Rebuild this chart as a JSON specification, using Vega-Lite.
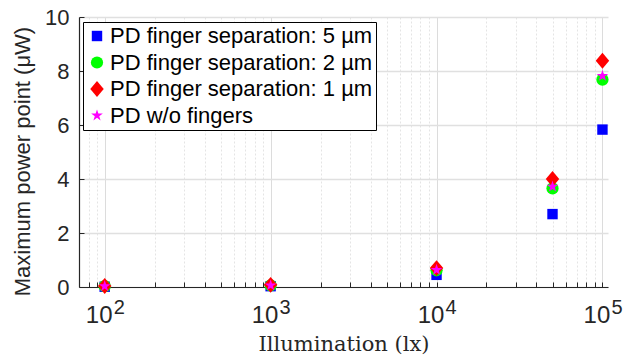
{
  "$schema": "https://vega.github.io/schema/vega-lite/v6.json",
  "width": 529,
  "height": 270,
  "autosize": {"type": "none"},
  "padding": {"left": 79, "top": 17, "right": 35, "bottom": 69},
  "background": "white",
  "config": {
    "view": {"stroke": null},
    "font": "Liberation Sans"
  },
  "data": {
    "values": [
      {"lux": 100, "mpp": 0.01, "series": "PD finger separation: 5 µm"},
      {"lux": 1000, "mpp": 0.03, "series": "PD finger separation: 5 µm"},
      {"lux": 10000, "mpp": 0.45, "series": "PD finger separation: 5 µm"},
      {"lux": 50000, "mpp": 2.70, "series": "PD finger separation: 5 µm"},
      {"lux": 100000, "mpp": 5.83, "series": "PD finger separation: 5 µm"},
      {"lux": 100, "mpp": 0.03, "series": "PD finger separation: 2 µm"},
      {"lux": 1000, "mpp": 0.06, "series": "PD finger separation: 2 µm"},
      {"lux": 10000, "mpp": 0.62, "series": "PD finger separation: 2 µm"},
      {"lux": 50000, "mpp": 3.65, "series": "PD finger separation: 2 µm"},
      {"lux": 100000, "mpp": 7.68, "series": "PD finger separation: 2 µm"},
      {"lux": 100, "mpp": 0.04, "series": "PD finger separation: 1 µm"},
      {"lux": 1000, "mpp": 0.08, "series": "PD finger separation: 1 µm"},
      {"lux": 10000, "mpp": 0.70, "series": "PD finger separation: 1 µm"},
      {"lux": 50000, "mpp": 4.00, "series": "PD finger separation: 1 µm"},
      {"lux": 100000, "mpp": 8.38, "series": "PD finger separation: 1 µm"},
      {"lux": 100, "mpp": 0.03, "series": "PD w/o fingers"},
      {"lux": 1000, "mpp": 0.06, "series": "PD w/o fingers"},
      {"lux": 10000, "mpp": 0.63, "series": "PD w/o fingers"},
      {"lux": 50000, "mpp": 3.72, "series": "PD w/o fingers"},
      {"lux": 100000, "mpp": 7.82, "series": "PD w/o fingers"}
    ]
  },
  "resolve": {"axis": {"x": "independent"}},
  "layer": [
    {
      "mark": {"type": "point", "filled": true, "opacity": 1, "strokeWidth": 0, "size": 150},
      "encoding": {
        "x": {
          "field": "lux",
          "type": "quantitative",
          "scale": {"type": "log", "domain": [70, 108000], "nice": false},
          "axis": {
            "orient": "bottom",
            "values": [80, 90, 100, 200, 300, 400, 500, 600, 700, 800, 900, 1000, 2000, 3000, 4000, 5000, 6000, 7000, 8000, 9000, 10000, 20000, 30000, 40000, 50000, 60000, 70000, 80000, 90000, 100000],
            "labelExpr": "indexof([100, 1000, 10000, 100000], datum.value) >= 0 ? '10' : ''",
            "labelOverlap": false,
            "labelFlush": false,
            "labelFont": "Liberation Sans",
            "labelFontSize": 24,
            "labelColor": "#262626",
            "labelPadding": 21,
            "labelOffset": -6,
            "tickSize": -5,
            "tickColor": "#262626",
            "domainColor": "#262626",
            "domainWidth": 1.2,
            "grid": true,
            "gridColor": {"condition": {"test": "indexof([100, 1000, 10000, 100000], datum.value) >= 0", "value": "#dcdcdc"}, "value": "#e4e4e4"},
            "gridDash": {"condition": {"test": "indexof([100, 1000, 10000, 100000], datum.value) >= 0", "value": []}, "value": [2, 2]},
            "gridWidth": 1,
            "title": "Illumination (lx)",
            "titleFont": "DejaVu Serif",
            "titleFontWeight": "normal",
            "titleFontSize": 21,
            "titleColor": "#262626",
            "titleBaseline": "alphabetic",
            "titleY": 63
          }
        },
        "y": {
          "field": "mpp",
          "type": "quantitative",
          "scale": {"domain": [0, 10], "nice": false},
          "axis": {
            "values": [0, 2, 4, 6, 8, 10],
            "labelFont": "Liberation Sans",
            "labelFontSize": 22,
            "labelColor": "#262626",
            "labelPadding": 15,
            "tickSize": -5,
            "tickColor": "#262626",
            "domainColor": "#262626",
            "domainWidth": 1.2,
            "grid": true,
            "gridColor": "#e0e0e0",
            "gridWidth": 1.5,
            "title": "Maximum power point (μW)",
            "titleFont": "Liberation Sans",
            "titleFontWeight": "normal",
            "titleFontSize": 22,
            "titleColor": "#262626",
            "titleAlign": "center",
            "titleBaseline": "middle",
            "titleX": -57,
            "titleY": 144
          }
        },
        "color": {
          "field": "series",
          "type": "nominal",
          "scale": {
            "domain": ["PD finger separation: 5 µm", "PD finger separation: 2 µm", "PD finger separation: 1 µm", "PD w/o fingers"],
            "range": ["#0000ff", "#00ff00", "#ff0000", "#ff00ff"]
          },
          "legend": {
            "orient": "none",
            "legendX": 4,
            "legendY": 5,
            "title": null,
            "fillColor": "white",
            "strokeColor": "#000000",
            "padding": 3,
            "rowPadding": 4.5,
            "labelOffset": 2,
            "symbolSize": 150,
            "labelFont": "Liberation Sans",
            "labelFontSize": 22,
            "labelColor": "#000000",
            "labelLimit": 400,
            "labelExpr": "datum.label + '\u00a0\u00a0\u00a0\u00a0\u00a0\u00a0\u00a0\u00a0\u00a0'"
          }
        },
        "shape": {
          "field": "series",
          "type": "nominal",
          "scale": {
            "domain": ["PD finger separation: 5 µm", "PD finger separation: 2 µm", "PD finger separation: 1 µm", "PD w/o fingers"],
            "range": [
              "M-0.85,-0.85L0.85,-0.85L0.85,0.85L-0.85,0.85Z",
              "circle",
              "M0,-1.3L1.1,0L0,1.3L-1.1,0Z",
              "M0,-1L0.2245,-0.309L0.951,-0.309L0.363,0.118L0.588,0.809L0,0.382L-0.588,0.809L-0.363,0.118L-0.951,-0.309L-0.2245,-0.309Z"
            ]
          }
        }
      }
    },
    {
      "mark": {"type": "point", "opacity": 0},
      "encoding": {
        "x": {
          "field": "lux",
          "type": "quantitative",
          "axis": {
            "orient": "bottom",
            "values": [100, 1000, 10000, 100000],
            "labelExpr": "'' + round(log(datum.value) / LN10)",
            "labelOverlap": false,
            "labelFlush": false,
            "labelFont": "Liberation Sans",
            "labelFontSize": 20,
            "labelColor": "#262626",
            "labelPadding": 10,
            "labelOffset": 14,
            "ticks": false,
            "domain": false,
            "grid": false,
            "title": null
          }
        }
      }
    }
  ]
}
